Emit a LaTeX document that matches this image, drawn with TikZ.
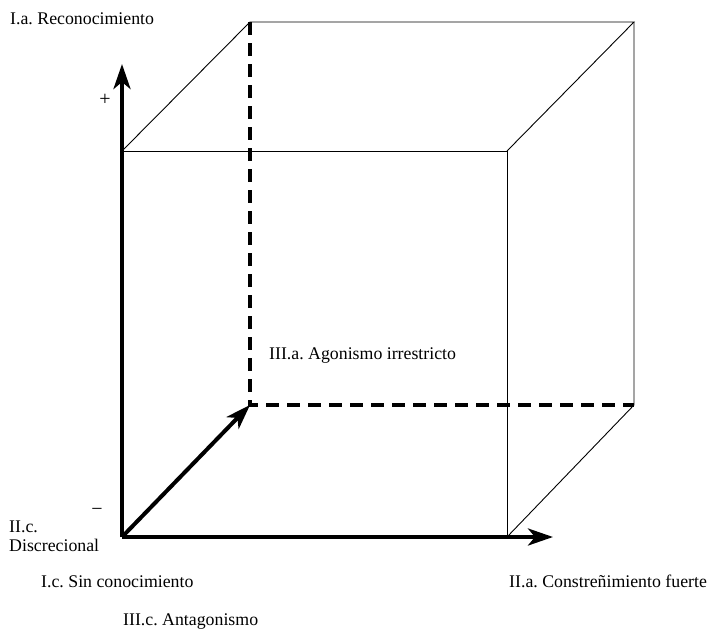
\documentclass[tikz,border=0pt]{standalone}
\usepackage{fontspec}
\setmainfont{Liberation Serif}
\usetikzlibrary{arrows.meta}
\frenchspacing
\begin{document}
\begin{tikzpicture}[x=1pt,y=-1pt,
  thinline/.style={line width=0.9pt},
  dashline/.style={line width=3.6pt, dash pattern=on 13pt off 8pt},
  axis/.style={line width=4pt, -{Stealth[length=25pt,width=17pt,inset=7pt]}},
  lbl/.style={inner sep=0pt, anchor=base west, font=\fontsize{17.8}{20}\selectfont},
  sign/.style={inner sep=0pt, font=\fontsize{20}{22}\selectfont}]
\useasboundingbox (0,0) rectangle (711,629);
% cube corners
\coordinate (O) at (122,537);
\coordinate (FTL) at (122,151);
\coordinate (FTR) at (507,151);
\coordinate (FBR) at (507,537);
\coordinate (BTL) at (250,22);
\coordinate (BTR) at (634,22);
\coordinate (BBL) at (250,405);
\coordinate (BBR) at (634,405);
\coordinate (TY) at (122,64);
\coordinate (TX) at (553,537);
% thin edges
\draw[thinline] (FTL) -- (FTR) -- (FBR);
\draw[thinline] (FTL) -- (BTL) -- (BTR) -- (FTR);
\draw[thinline] (BTR) -- (BBR) -- (FBR);
% hidden edges
\draw[dashline] (BTL) -- (BBL) -- (BBR);
% axes
\draw[axis] (O) -- (TY);
\draw[axis] (O) -- (TX);
\draw[axis] (O) -- (BBL);
% labels
\node[lbl] (ia) at (10,24) {I.a. Reconocimiento};
\node[lbl] (iic) at (9,532) {II.c.};
\node[lbl] (disc) at (9,551) {Discrecional};
\node[lbl] (ic) at (41,587) {I.c. Sin conocimiento};
\node[lbl] (iiic) at (123,625) {III.c. Antagonismo};
\node[lbl] (iiia) at (269,359) {III.a. Agonismo irrestricto};
\node[lbl] (iia) at (509,587) {II.a. Constreñimiento fuerte};
\node[sign] (plus) at (105,100) {+};
\node[sign] (minus) at (97,512) {\char"2212};
\end{tikzpicture}
\end{document}
